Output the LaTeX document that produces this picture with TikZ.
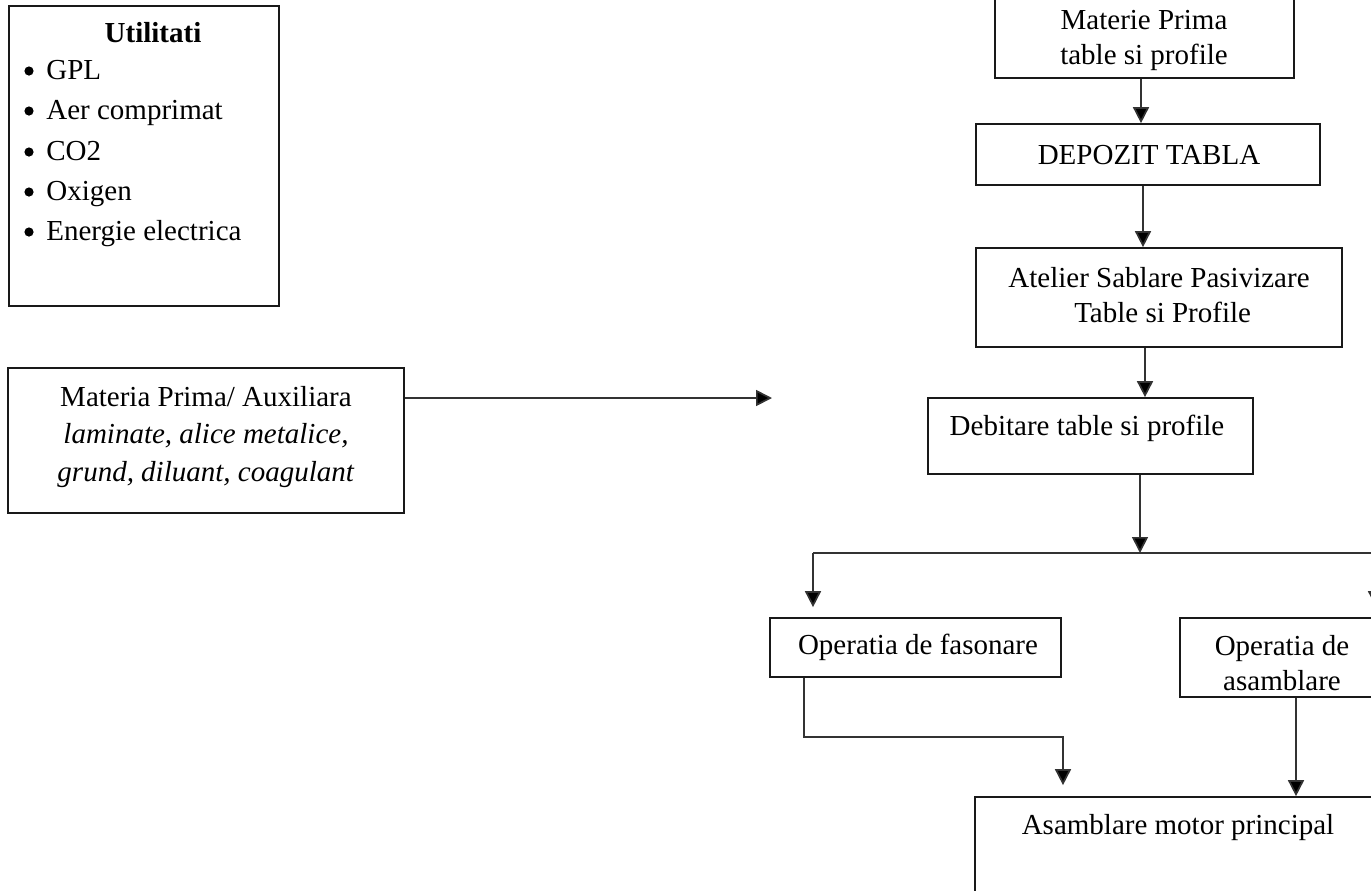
\documentclass[tikz,border=0pt]{standalone}
\usepackage{fontspec}
\setmainfont{Liberation Serif}
\usetikzlibrary{arrows.meta}
\newcommand\diagfont{\fontsize{14.5}{17.5}\selectfont}
\begin{document}
\begin{tikzpicture}[x=0.5pt,y=-0.5pt,
  box/.style={draw=black!90, line width=0.85pt, inner sep=0pt},
  txt/.style={font=\diagfont, align=center, inner sep=0pt},
  dot/.style={circle, fill=black, inner sep=0pt, minimum size=4.6pt},
  link/.style={draw=black!80, line width=0.85pt},
  arr/.style={link, -{Triangle[length=8pt,width=8pt,fill=black]}}]
\useasboundingbox (0,0) rectangle (1371,890);

% boxes
\node[box, minimum width=135pt,   minimum height=150pt]  (util) at (144,156) {};
\node[box, minimum width=198pt,   minimum height=72.5pt] (mat)  at (206,440.5) {};
\node[box, minimum width=149.5pt, minimum height=44pt]   (mp)   at (1144.5,34) {};
\node[box, minimum width=172pt,   minimum height=30.5pt] (dep)  at (1148,154.5) {};
\node[box, minimum width=183pt,   minimum height=49.5pt] (sab)  at (1159,297.5) {};
\node[box, minimum width=162.5pt, minimum height=38pt]   (deb)  at (1090.5,436) {};
\node[box, minimum width=145.5pt, minimum height=29.5pt] (fas)  at (915.5,647.5) {};
\node[box, minimum width=106pt,   minimum height=39.5pt] (asm)  at (1286,657.5) {};
\node[box, minimum width=205pt,   minimum height=54pt]   (mot)  at (1180,851) {};

% utilities list
\node[txt, font=\diagfont\bfseries, anchor=base] (ut) at (153,42) {Utilitati};
\node[dot] (b1) at (29,71) {};
\node[dot] (b2) at (29,111) {};
\node[dot] (b3) at (29,152) {};
\node[dot] (b4) at (29,192) {};
\node[dot] (b5) at (29,232) {};
\node[txt, anchor=base west] (u1) at (46,79) {GPL};
\node[txt, anchor=base west] (u2) at (46,119) {Aer comprimat};
\node[txt, anchor=base west] (u3) at (46,160) {CO2};
\node[txt, anchor=base west] (u4) at (46,200) {Oxigen};
\node[txt, anchor=base west] (u5) at (46,240) {Energie electrica};

% box texts
\node[txt, font=\fontsize{14.5}{18.75}\selectfont] (matt) at (206,437)
  {Materia Prima/ Auxiliara\\\textit{laminate, alice metalice,}\\\textit{grund, diluant, coagulant}};
\node[txt] (mpt)  at (1144,40)  {Materie Prima\\table si profile};
\node[txt] (dept) at (1149,155) {DEPOZIT TABLA};
\node[txt] (sabt) at (1159,295) {Atelier Sablare Pasivizare\\\ Table si Profile};
\node[txt] (debt) at (1087,428) {Debitare table si profile};
\node[txt] (fast) at (918,647)  {Operatia de fasonare};
\node[txt] (asmt) at (1282,663) {Operatia de\\asamblare};
\node[txt] (mott) at (1178,828) {Asamblare motor principal};

% connector positions
\coordinate (a1) at (1141,0);
\coordinate (a2) at (1143,0);
\coordinate (a3) at (1145,0);
\coordinate (j)  at (1140,553);
\coordinate (jl) at (813,553);
\coordinate (jr) at (1376,553);
\coordinate (fx) at (804,737);
\coordinate (tx) at (1063,737);
\coordinate (ax) at (1296,0);
\coordinate (mend) at (772,398);

% connectors
\draw[arr] (mat.east |- mend) -- (mend);
\draw[arr] (mp.south -| a1) -- (dep.north -| a1);
\draw[arr] (dep.south -| a2) -- (sab.north -| a2);
\draw[arr] (sab.south -| a3) -- (deb.north -| a3);
\draw[arr] (deb.south -| j) -- (j);
\draw[link] (jl) -- (jr);
\draw[arr, shorten >=5pt] (jl) -- (jl |- fas.north);
\draw[arr, shorten >=5pt] (jr) -- (jr |- asm.north);
\draw[arr, shorten >=5.5pt] (fas.south -| fx) -- (fx) -- (tx) -- (tx |- mot.north);
\draw[arr] (asm.south -| ax) -- (mot.north -| ax);
\end{tikzpicture}
\end{document}
